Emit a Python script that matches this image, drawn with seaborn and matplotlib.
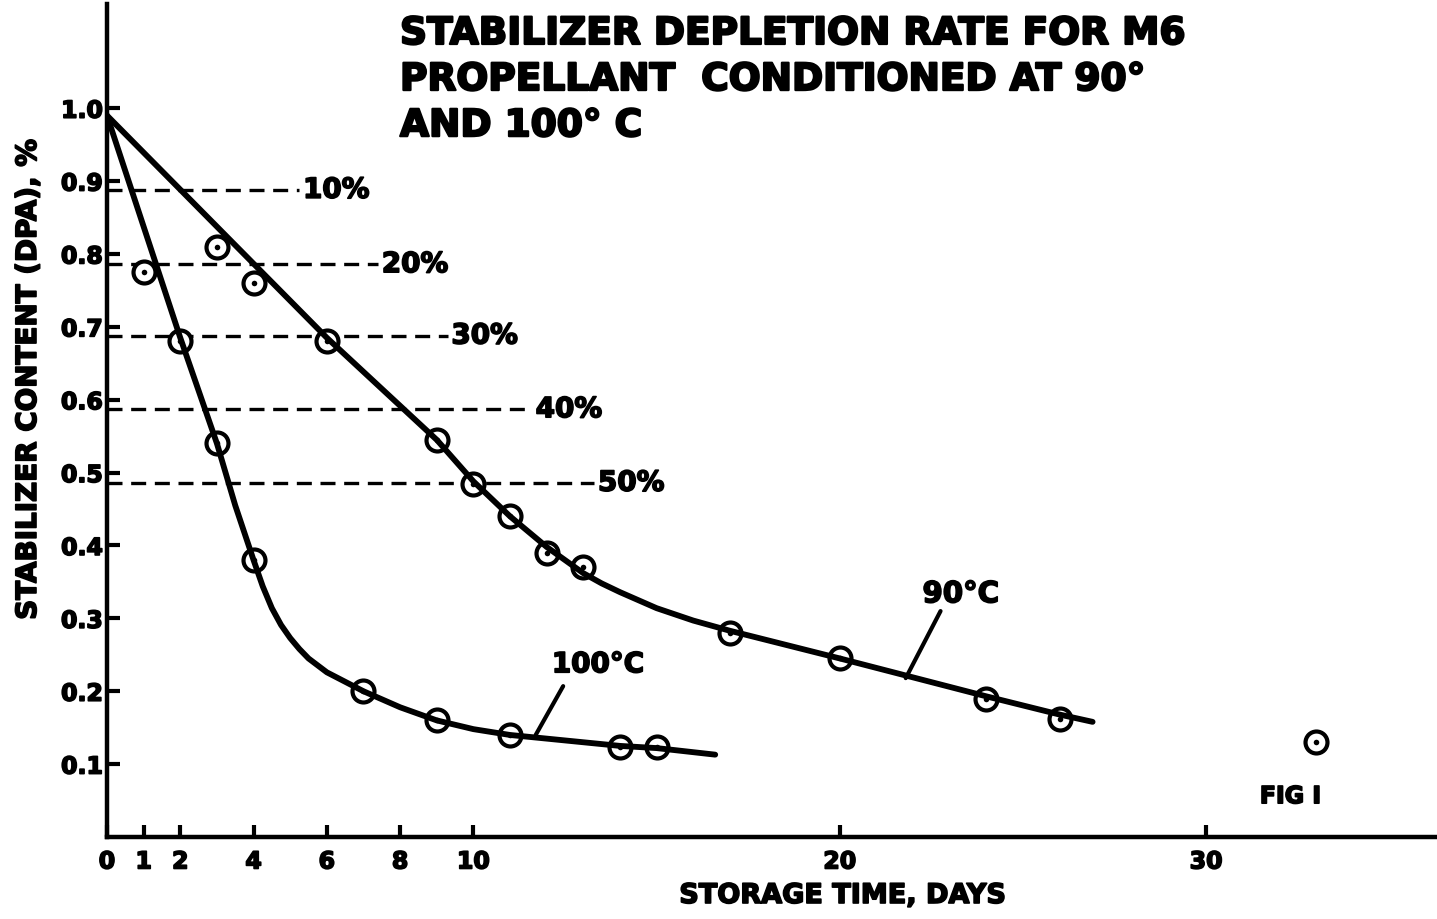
import matplotlib
matplotlib.use("Agg")
import matplotlib.pyplot as plt
import matplotlib.patheffects as pe
import seaborn as sns
import pandas as pd

# measured points (storage days, DPA %)
days_90 = [1, 3, 4, 6, 9, 10, 11, 12, 13, 17, 20, 24, 26, 33]
dpa_90 = [0.775, 0.81, 0.76, 0.68, 0.545, 0.485, 0.44, 0.39, 0.37, 0.28, 0.245, 0.19, 0.162, 0.13]
days_100 = [2, 3, 4, 7, 9, 11, 14, 15]
dpa_100 = [0.68, 0.54, 0.38, 0.20, 0.16, 0.14, 0.123, 0.123]

# hand-drawn fitted curves
curve_90_x = [0, 6, 9, 10, 11, 12, 13, 13.5, 14, 15, 16, 17, 20, 22, 24, 26, 26.9]
curve_90_y = [0.99, 0.685, 0.545, 0.488, 0.44, 0.398, 0.362, 0.348, 0.336, 0.314, 0.297, 0.283, 0.245, 0.219, 0.193, 0.168, 0.158]
curve_100_x = [0, 2, 3, 3.5, 4, 4.25, 4.5, 4.75, 5, 5.25, 5.5, 6, 7, 8, 9, 10, 11, 12, 14, 15, 16.6]
curve_100_y = [0.99, 0.685, 0.54, 0.455, 0.38, 0.344, 0.314, 0.291, 0.273, 0.258, 0.245, 0.226, 0.2, 0.178, 0.16, 0.148, 0.14, 0.135, 0.125, 0.122, 0.113]

# depletion reference levels
depl_labels = ["10%", "20%", "30%", "40%", "50%"]
depl_levels = [0.888, 0.786, 0.688, 0.587, 0.486]
depl_ends = [5.25, 7.4, 9.3, 11.6, 13.3]

x_ticks = [0, 1, 2, 4, 6, 8, 10, 20, 30]
y_ticks = [0.1, 0.2, 0.3, 0.4, 0.5, 0.6, 0.7, 0.8, 0.9, 1.0]
y_labels = ["0.1", "0.2", "0.3", "0.4", "0.5", "0.6", "0.7", "0.8", "0.9", "1.0"]

sns.set_theme(style="white")
plt.rcParams["font.family"] = ["DejaVu Sans"]
plt.rcParams["font.weight"] = "bold"
for key in ["text.color", "axes.labelcolor", "xtick.color", "ytick.color"]:
    plt.rcParams[key] = "black"

# thicken the lettering a little, like the stencilled original
ink = [pe.withStroke(linewidth=1.2, foreground="black")]

fig = plt.figure(figsize=(14.37, 9.2), dpi=100)
ax = fig.add_axes([107 / 1437, 82 / 920, 1330 / 1437, 833 / 920])

curves = pd.concat([
    pd.DataFrame({"day": curve_90_x, "dpa": curve_90_y, "temp": "90"}),
    pd.DataFrame({"day": curve_100_x, "dpa": curve_100_y, "temp": "100"}),
])
points = pd.concat([
    pd.DataFrame({"day": days_90, "dpa": dpa_90, "temp": "90"}),
    pd.DataFrame({"day": days_100, "dpa": dpa_100, "temp": "100"}),
])

# dashed depletion lines
for lvl, end, lab in zip(depl_levels, depl_ends, depl_labels):
    ax.plot([0, end], [lvl, lvl], color="black", lw=2.4, ls=(0, (4.5, 2.6)), zorder=2)
    ax.text(end + 0.1, lvl, lab, fontsize=20, fontweight="bold", va="center", ha="left",
            path_effects=ink)

sns.scatterplot(data=points, x="day", y="dpa", ax=ax, marker="o", s=250,
                facecolor="white", edgecolor="black", linewidth=3, legend=False)
sns.scatterplot(data=points, x="day", y="dpa", ax=ax, marker="o", s=16,
                color="black", linewidth=0, legend=False)
for coll in ax.collections:
    coll.set_zorder(3)
n_before = len(ax.lines)
sns.lineplot(data=curves, x="day", y="dpa", units="temp", estimator=None, sort=False,
             color="black", lw=4.2, ax=ax, legend=False)
for ln in ax.lines[n_before:]:
    ln.set_zorder(5)

# curve labels with leader lines
ax.text(23.3, 0.333, "90°C", fontsize=21, fontweight="bold", ha="center", va="center",
        path_effects=ink)
ax.plot([22.75, 21.8], [0.31, 0.218], color="black", lw=3)
ax.text(13.4, 0.237, "100°C", fontsize=20, fontweight="bold", ha="center", va="center",
        path_effects=ink)
ax.plot([12.45, 11.7], [0.207, 0.14], color="black", lw=3)
ax.text(32.3, 0.056, "FIG I", fontsize=17, fontweight="bold", ha="center", va="center",
        path_effects=ink)

ax.set_xlim(0, 36.3)
ax.set_ylim(0, 1.143)
ax.set_xticks(x_ticks)
ax.set_xticklabels([str(t) for t in x_ticks])
ax.set_yticks(y_ticks)
ax.set_yticklabels(y_labels)
ax.tick_params(axis="both", direction="in", length=9, width=3, labelsize=17,
               bottom=True, left=True)
ax.tick_params(axis="x", pad=9)
ax.tick_params(axis="y", pad=3)
for lab in ax.get_xticklabels() + ax.get_yticklabels():
    lab.set_fontweight("bold")
    lab.set_path_effects(ink)
sns.despine(ax=ax)
for side in ["left", "bottom"]:
    ax.spines[side].set_linewidth(3.2)
    ax.spines[side].set_color("black")
ax.set_xlabel("")
ax.set_ylabel("")

fig.text(843 / 1437, 1 - 897 / 920, "STORAGE TIME, DAYS", fontsize=19.5, fontweight="bold",
         ha="center", va="center", path_effects=ink)
fig.text(28 / 1437, 1 - 381 / 920, "STABILIZER CONTENT (DPA), %", fontsize=20,
         fontweight="bold", rotation=90, ha="center", va="center", path_effects=ink)
fig.text(400 / 1437, 1 - 17 / 920,
         "STABILIZER DEPLETION RATE FOR M6\nPROPELLANT  CONDITIONED AT 90°\nAND 100° C",
         fontsize=27, fontweight="bold", ha="left", va="top", linespacing=1.36,
         path_effects=[pe.withStroke(linewidth=1.6, foreground="black")])

fig.savefig("out.png", dpi=100, facecolor="white")
